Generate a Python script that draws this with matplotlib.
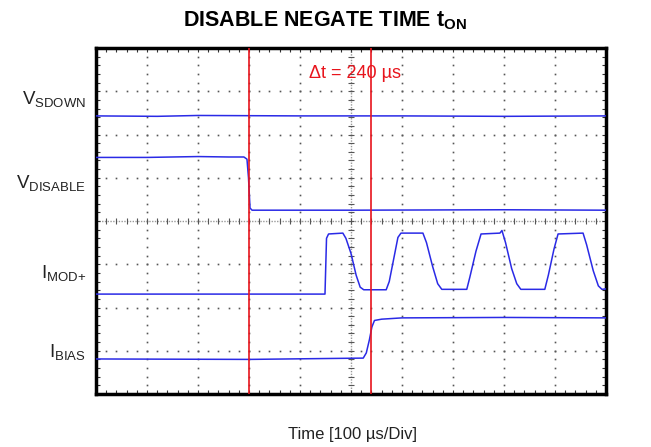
import matplotlib
matplotlib.use('Agg')
import matplotlib.pyplot as plt
import numpy as np

plt.rcParams['font.family'] = ['Liberation Sans', 'DejaVu Sans']
plt.rcParams['mathtext.fontset'] = 'custom'
plt.rcParams['mathtext.rm'] = 'Liberation Sans'
plt.rcParams['mathtext.bf'] = 'Liberation Sans:bold'

# time in us, level in screen divisions (0 = bottom, 8 = top)
vsdown_t = [0, 120, 200, 400, 600, 800, 1000]
vsdown_v = [6.43, 6.42, 6.44, 6.43, 6.43, 6.42, 6.43]

vdis_t = [0, 100, 200, 260, 290, 296, 299, 302, 306, 500, 800, 1000]
vdis_v = [5.47, 5.47, 5.49, 5.48, 5.48, 5.43, 5.0, 4.3, 4.25, 4.25, 4.26, 4.25]

imod_t = [0, 449, 452, 456, 484, 490, 500, 510, 518, 525, 569, 575, 585, 592,
          598, 641, 648, 660, 670, 678, 727, 733, 745, 755, 792, 796, 803, 815,
          825, 833, 880, 887, 898, 906, 955, 962, 975, 985, 992, 1000]
imod_v = [2.31, 2.31, 3.60, 3.70, 3.72, 3.60, 3.25, 2.75, 2.47, 2.41, 2.41,
          2.60, 3.20, 3.62, 3.72, 3.72, 3.50, 2.95, 2.55, 2.42, 2.42, 2.70,
          3.30, 3.70, 3.72, 3.78, 3.50, 2.90, 2.55, 2.42, 2.42, 2.75, 3.35,
          3.70, 3.72, 3.45, 2.85, 2.50, 2.42, 2.43]

ibias_t = [0, 300, 524, 530, 536, 541, 546, 560, 600, 800, 1000]
ibias_v = [0.81, 0.80, 0.83, 0.95, 1.25, 1.55, 1.70, 1.73, 1.76, 1.77, 1.76]

cursor_t = [300, 540]

ch_labels = [r'V$_{\mathregular{SDOWN}}$', r'V$_{\mathregular{DISABLE}}$',
             r'I$_{\mathregular{MOD{+}}}$', r'I$_{\mathregular{BIAS}}$']
ch_label_y = [6.8, 4.86, 2.78, 0.95]

fig = plt.figure(figsize=(6.51, 4.47), dpi=100)
ax = fig.add_axes([96/651, 53/447, 510/651, 346/447])
ax.set_xlim(0, 1000)
ax.set_ylim(0, 8)

# dotted graticule
minor_x = np.arange(0, 1001, 20)
minor_y = np.arange(0, 8.01, 0.2)
for gx in range(100, 1000, 100):
    if gx == 500:
        continue
    ax.plot([gx]*len(minor_y), minor_y, ls='none', marker='s', ms=1.2,
            mec='none', mfc='#555555', zorder=1)
for gy in range(1, 8):
    if gy == 4:
        continue
    ax.plot(minor_x, [gy]*len(minor_x), ls='none', marker='s', ms=1.2,
            mec='none', mfc='#555555', zorder=1)

# center axes with ruler ticks
ax.axhline(4, color='#999999', lw=1, ls=(0, (1, 1)), zorder=1)
ax.axvline(500, color='#999999', lw=1, ls=(0, (1, 1)), zorder=1)
ax.plot(minor_x, [4]*len(minor_x), ls='none', marker='|', ms=4, mew=0.8,
        color='#555555', zorder=1)
ax.plot([500]*len(minor_y), minor_y, ls='none', marker='_', ms=4, mew=0.8,
        color='#555555', zorder=1)

# traces
blue = '#2a2ae6'
for tt, vv in [(vsdown_t, vsdown_v), (vdis_t, vdis_v),
               (imod_t, imod_v), (ibias_t, ibias_v)]:
    ax.plot(tt, vv, color=blue, lw=1.1, zorder=3)

for c in cursor_t:
    ax.axvline(c, color='#e8141c', lw=1.2, zorder=4)

ax.text(508, 7.42, '\u0394t = 240 \u00b5s', color='#e8141c', fontsize=13,
        ha='center', va='center', zorder=5)

# frame ticks
ax.set_xticks(np.arange(0, 1001, 100))
ax.set_yticks(np.arange(0, 9, 1))
ax.set_xticks(minor_x, minor=True)
ax.set_yticks(minor_y, minor=True)
ax.tick_params(which='both', direction='in', length=3, width=0.8,
               top=True, right=True, labelbottom=False, labelleft=False,
               color='#333333')
for s in ax.spines.values():
    s.set_linewidth(2.5)

for lab, ly in zip(ch_labels, ch_label_y):
    ax.text(-20, ly, lab, fontsize=13.5, ha='right', va='center',
            transform=ax.transData, clip_on=False, color='#222222')

fig.text(0.5, 1 - 21/447, r'DISABLE NEGATE TIME t$_{\mathbf{ON}}$',
         fontsize=15.5, fontweight='bold', ha='center', va='center')
fig.text(352/651, 1 - 434/447, 'Time [100 \u00b5s/Div]', fontsize=12,
         ha='center', va='center', color='#222222')

fig.savefig('out.png', dpi=100)
